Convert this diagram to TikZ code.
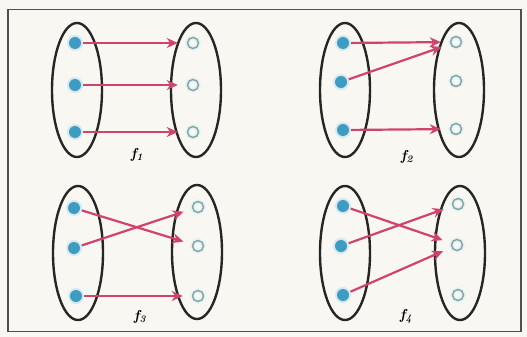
\documentclass[tikz,border=0pt]{standalone}
\usetikzlibrary{arrows.meta,shapes.geometric}
\definecolor{paper}{HTML}{F8F7F1}
\definecolor{framec}{HTML}{505050}
\definecolor{dotblue}{HTML}{3E9CC2}
\definecolor{halo}{HTML}{D4E9F0}
\definecolor{ringc}{HTML}{86A8A2}
\definecolor{arrowc}{HTML}{D0446C}
\begin{document}
\begin{tikzpicture}[x=1pt,y=-1pt,
  setoval/.style={draw=black!85,line width=2.4pt,ellipse,minimum width=50pt,minimum height=134pt,inner sep=0pt},
  srcdot/.style={circle,fill=dotblue,minimum size=12pt,inner sep=0pt,
     preaction={draw=halo,line width=4pt}},
  tgtring/.style={circle,draw=ringc,line width=1.5pt,minimum size=11pt,inner sep=0pt,
     preaction={draw=halo!60,line width=4.5pt}},
  maparrow/.style={draw=arrowc,line width=2.2pt,-{Stealth[length=11pt,width=10pt]},shorten >=9pt,shorten <=2pt},
  flabel/.style={font=\bfseries\itshape\Large,inner sep=0pt}]
\useasboundingbox (0,0) rectangle (527,337);
\fill[paper] (0,0) rectangle (527,337);
\node[draw=framec,line width=1.5pt,minimum width=513pt,minimum height=322pt,inner sep=0pt] (frame) at (264.5,170.5) {};
% panel 1
\node[setoval] (L1) at (77,90) {};
\node[setoval] (R1) at (196,90) {};
\node[srcdot] (a11) at (75,43) {};
\node[srcdot] (a12) at (75,85) {};
\node[srcdot] (a13) at (75,132) {};
\node[tgtring] (b11) at (193,43) {};
\node[tgtring] (b12) at (193,85) {};
\node[tgtring] (b13) at (193,132) {};
\draw[maparrow] (a11) -- (b11);
\draw[maparrow] (a12) -- (b12);
\draw[maparrow] (a13) -- (b13);
\node[flabel] (f1) at (137,155) {f\textsubscript{1}};
% panel 2
\node[setoval] (L2) at (345,90) {};
\node[setoval] (R2) at (459,90) {};
\node[srcdot] (a21) at (343,43) {};
\node[srcdot] (a22) at (341,82) {};
\node[srcdot] (a23) at (343,130) {};
\node[tgtring] (b21) at (456,42) {};
\node[tgtring] (b22) at (456,81) {};
\node[tgtring] (b23) at (456,129) {};
\draw[maparrow] (a21) -- (b21);
\draw[maparrow] (a22) -- (b21);
\draw[maparrow] (a23) -- (b23);
\node[flabel] (f2) at (407,157) {f\textsubscript{2}};
% panel 3
\node[setoval] (L3) at (78,253) {};
\node[setoval] (R3) at (197,252) {};
\node[srcdot] (a31) at (74,208) {};
\node[srcdot] (a32) at (74,248) {};
\node[srcdot] (a33) at (76,296) {};
\node[tgtring] (b31) at (198,207) {};
\node[tgtring] (b32) at (198,246) {};
\node[tgtring] (b33) at (198,296) {};
\draw[maparrow] (a31) -- (b32);
\draw[maparrow] (a32) -- (b31);
\draw[maparrow] (a33) -- (b33);
\node[flabel] (f3) at (140,317) {f\textsubscript{3}};
% panel 4
\node[setoval] (L4) at (345,253) {};
\node[setoval] (R4) at (460,253) {};
\node[srcdot] (a41) at (343,206) {};
\node[srcdot] (a42) at (341,246) {};
\node[srcdot] (a43) at (343,295) {};
\node[tgtring] (b41) at (458,204) {};
\node[tgtring] (b42) at (457,245) {};
\node[tgtring] (b43) at (458,295) {};
\draw[maparrow] (a41) -- (b42);
\draw[maparrow] (a42) -- (b41);
\draw[maparrow] (a43) -- (b42);
\node[flabel] (f4) at (406,316) {f\textsubscript{4}};
\end{tikzpicture}
\end{document}
